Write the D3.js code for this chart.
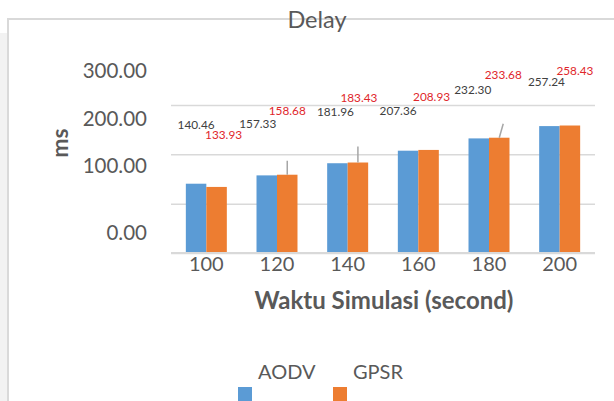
<!DOCTYPE html>
<html>
<head>
<meta charset="utf-8">
<script src="https://cdn.jsdelivr.net/npm/d3@7"></script>
<style>
  html, body { margin: 0; padding: 0; background: #fff; }
  svg { display: block; font-family: Lato, "Open Sans", sans-serif; }
</style>
</head>
<body>
<script>
// Data
var categories = ['100', '120', '140', '160', '180', '200'];
var seriesNames = ['AODV', 'GPSR'];
var aodv = [140.46, 157.33, 181.96, 207.36, 232.30, 257.24];
var gpsr = [133.93, 158.68, 183.43, 208.93, 233.68, 258.43];
var yTicks = [0, 100, 200, 300];

// Label placement (data labels were dragged around by hand in the original)
var aodvLabelShift = [[0, -59], [-9, -52], [-2, -51], [-10, -40], [-6, -49], [-3, -44]];
var gpsrLabelShift = [[7, -52], [0, -64], [1, -65], [3, -53], [4, -63], [5, -55]];
var gpsrLeaders = [null, [0, 0, -14], [0, 0, -16], null, [0, 4, -14], null];
var tickLabelShift = [-20, -38, -36, -34];

var colors = ['#5b9bd5', '#ed7d31'];
var W = 614, H = 401;

var svg = d3.select('body').append('svg').attr('width', W).attr('height', H);

// background and chart frame
svg.append('rect').attr('width', W).attr('height', H).attr('fill', '#fff');
svg.append('rect').attr('x', 0).attr('y', 33).attr('width', 7).attr('height', H - 33).attr('fill', '#f2f2f2');
svg.append('line').attr('x1', 7).attr('x2', W).attr('y1', 19).attr('y2', 19)
  .attr('stroke', '#d9d9d9').attr('stroke-width', 2);
svg.append('line').attr('x1', 8).attr('x2', 8).attr('y1', 18).attr('y2', H)
  .attr('stroke', '#d9d9d9').attr('stroke-width', 2);

// scales
var x = d3.scaleBand().domain(categories).range([171, 595]).paddingInner(0.42).paddingOuter(0.21);
var xs = d3.scaleBand().domain(seriesNames).range([0, x.bandwidth()]);
var y = d3.scaleLinear().domain([0, 300]).range([253, 105]);

// gridlines
svg.append('g')
  .attr('transform', 'translate(171,0)')
  .call(d3.axisLeft(y).tickValues(yTicks).tickSize(-424).tickFormat(''))
  .call(function (g) { g.select('.domain').remove(); })
  .selectAll('line')
  .attr('stroke', '#d9d9d9')
  .attr('stroke-width', 1.5);

// y tick labels (offset from their gridlines as in the original)
svg.append('g').selectAll('text')
  .data(yTicks)
  .enter()
  .append('text')
  .attr('x', 147)
  .attr('y', function (d, i) { return y(d) + tickLabelShift[i]; })
  .attr('dy', '0.35em')
  .attr('text-anchor', 'end')
  .attr('font-size', 20.5)
  .attr('fill', '#595959')
  .text(function (d) { return d3.format('.2f')(d); });

// bars
var rows = categories.map(function (c, i) { return { cat: c, vals: [aodv[i], gpsr[i]] }; });

var groups = svg.append('g').selectAll('g')
  .data(rows)
  .enter()
  .append('g')
  .attr('transform', function (d) { return 'translate(' + x(d.cat) + ',0)'; });

groups.selectAll('rect')
  .data(function (d) { return d.vals.map(function (v, j) { return { name: seriesNames[j], v: v, j: j }; }); })
  .enter()
  .append('rect')
  .attr('x', function (d) { return xs(d.name); })
  .attr('width', xs.bandwidth())
  .attr('y', function (d) { return y(d.v); })
  .attr('height', function (d) { return y(0) - y(d.v); })
  .attr('fill', function (d) { return colors[d.j]; });

// leader lines
svg.append('g').selectAll('line')
  .data(categories.map(function (c, i) { return { i: i, l: gpsrLeaders[i] }; }).filter(function (d) { return d.l; }))
  .enter()
  .append('line')
  .attr('x1', function (d) { return x(categories[d.i]) + xs('GPSR') + xs.bandwidth() / 2 + d.l[0]; })
  .attr('y1', function (d) { return y(gpsr[d.i]); })
  .attr('x2', function (d) { return x(categories[d.i]) + xs('GPSR') + xs.bandwidth() / 2 + d.l[1]; })
  .attr('y2', function (d) { return y(gpsr[d.i]) + d.l[2]; })
  .attr('stroke', '#a6a6a6')
  .attr('stroke-width', 1.5);

// baseline
svg.append('line').attr('x1', 171).attr('x2', 595).attr('y1', y(0)).attr('y2', y(0))
  .attr('stroke', '#d9d9d9').attr('stroke-width', 2);

// data labels
function addLabels(vals, shift, name, fill) {
  svg.append('g').selectAll('text')
    .data(vals)
    .enter()
    .append('text')
    .attr('x', function (d, i) { return x(categories[i]) + xs(name) + xs.bandwidth() / 2 + shift[i][0]; })
    .attr('y', function (d, i) { return y(d) + shift[i][1]; })
    .attr('dy', '0.35em')
    .attr('text-anchor', 'middle')
    .attr('font-size', 11.8)
    .attr('fill', fill)
    .text(function (d) { return d3.format('.2f')(d); });
}
addLabels(aodv, aodvLabelShift, 'AODV', '#404040');
addLabels(gpsr, gpsrLabelShift, 'GPSR', '#e0262b');

// x tick labels
svg.append('g').selectAll('text')
  .data(categories)
  .enter()
  .append('text')
  .attr('x', function (d) { return x(d) + x.bandwidth() / 2; })
  .attr('y', 264)
  .attr('dy', '0.35em')
  .attr('text-anchor', 'middle')
  .attr('font-size', 20)
  .attr('fill', '#595959')
  .text(function (d) { return d; });

// title
svg.append('text')
  .attr('x', 317).attr('y', 28)
  .attr('text-anchor', 'middle')
  .attr('font-size', 23.5)
  .attr('fill', '#595959')
  .text('Delay');

// axis titles
svg.append('text')
  .attr('x', 384).attr('y', 301)
  .attr('dy', '0.35em')
  .attr('text-anchor', 'middle')
  .attr('font-size', 24)
  .attr('font-weight', 'bold')
  .attr('fill', '#595959')
  .text('Waktu Simulasi (second)');

svg.append('text')
  .attr('transform', 'translate(60,143) rotate(-90)')
  .attr('dy', '0.35em')
  .attr('text-anchor', 'middle')
  .attr('font-size', 23)
  .attr('font-weight', 'bold')
  .attr('fill', '#595959')
  .text('ms');

// legend
var legendX = [238, 333];
var legend = svg.append('g').selectAll('g')
  .data(seriesNames)
  .enter()
  .append('g');

legend.append('rect')
  .attr('x', function (d, i) { return legendX[i]; })
  .attr('y', 387)
  .attr('width', 14)
  .attr('height', 14)
  .attr('fill', function (d, i) { return colors[i]; });

legend.append('text')
  .attr('x', function (d, i) { return legendX[i] + 20; })
  .attr('y', 372)
  .attr('dy', '0.35em')
  .attr('font-size', 20)
  .attr('fill', '#595959')
  .text(function (d) { return d; });
</script>
</body>
</html>
